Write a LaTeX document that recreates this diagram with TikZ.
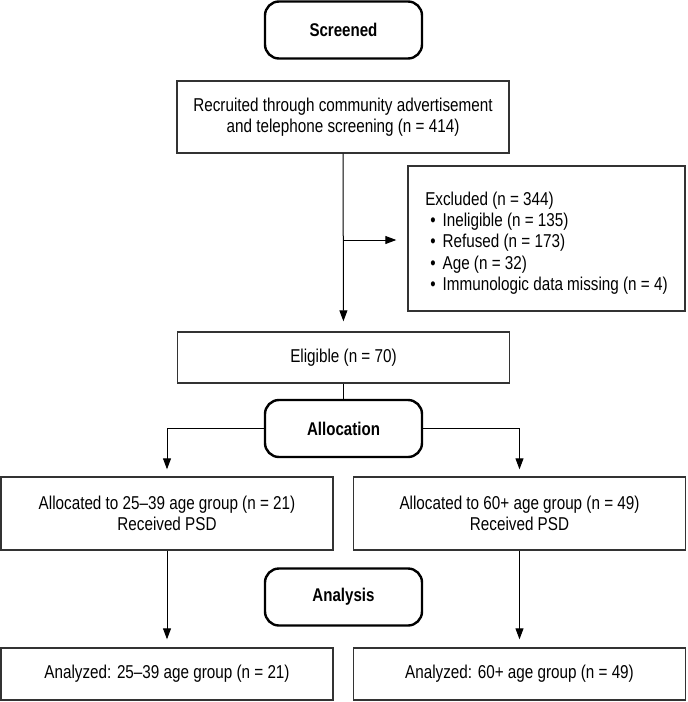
\documentclass[tikz,border=0pt]{standalone}
\usepackage{fontspec}
\setmainfont{Liberation Sans}[FakeStretch=0.82]
\usetikzlibrary{arrows.meta}
\begin{document}
\begin{tikzpicture}[x=0.5pt,y=-0.5pt,
	phase/.style={draw=black,line width=1.2pt,rounded corners=7pt,minimum width=78.5pt,minimum height=28.5pt,font=\fontsize{9.2}{10.8}\selectfont\bfseries},
	box/.style={draw=black!80,line width=0.7pt,align=center,minimum width=166pt,font=\fontsize{9.3}{10.2}\selectfont},
	arr/.style={-{Triangle[length=5.5pt,width=4pt]},line width=0.5pt,shorten >=4pt}]
		\useasboundingbox (0,0) rectangle (687,702);
		\node[phase] (screened) at (343.5,30) {Screened};
		\node[box,minimum height=36pt] (recruited) at (343,117) {Recruited through community advertisement\\and telephone screening (n = 414)};
		\node[box,minimum width=138.5pt,minimum height=72.5pt,align=left,font=\fontsize{9.3}{10.7}\selectfont] (excluded) at (546.5,238.5)
			{\rule{0pt}{11.4pt}Excluded (n = 344)\\
			\hspace*{2.5pt}\textbullet\hspace{3.5pt}Ineligible (n = 135)\\
			\hspace*{2.5pt}\textbullet\hspace{3.5pt}Refused (n = 173)\\
			\hspace*{2.5pt}\textbullet\hspace{3.5pt}Age (n = 32)\\
			\hspace*{2.5pt}\textbullet\hspace{3.5pt}Immunologic data missing (n = 4)};
		\node[box,minimum height=25.5pt] (eligible) at (343.5,357.5) {Eligible (n = 70)};
		\node[phase] (allocation) at (343.5,428.5) {Allocation};
		\node[box,minimum height=36.5pt] (alloc1) at (167,513.5) {Allocated to 25--39 age group (n = 21)\\Received PSD};
		\node[box,minimum height=36.5pt] (alloc2) at (519.5,513.5) {Allocated to 60+ age group (n = 49)\\Received PSD};
		\node[phase] (analysis) at (343.5,597) {Analysis};
		\node[box,minimum height=26pt] (analyzed1) at (167,674) {Analyzed: 25--39 age group (n = 21)};
		\node[box,minimum height=26pt] (analyzed2) at (519.5,674) {Analyzed: 60+ age group (n = 49)};
		\coordinate (branch) at (343,240);
		\draw[arr,shorten >=5pt] (recruited) -- (eligible);
		\draw[arr,shorten >=5.5pt] (branch) -- (branch -| excluded.west);
		\draw[line width=0.5pt] (eligible) -- (allocation);
		\draw[arr,shorten >=3.5pt] (allocation.west) -| (alloc1);
		\draw[arr,shorten >=3.5pt] (allocation.east) -| (alloc2);
		\foreach \i in {1,2}
		{
			\draw[arr] (alloc\i) -- (analyzed\i);
		}
\end{tikzpicture}
\end{document}
